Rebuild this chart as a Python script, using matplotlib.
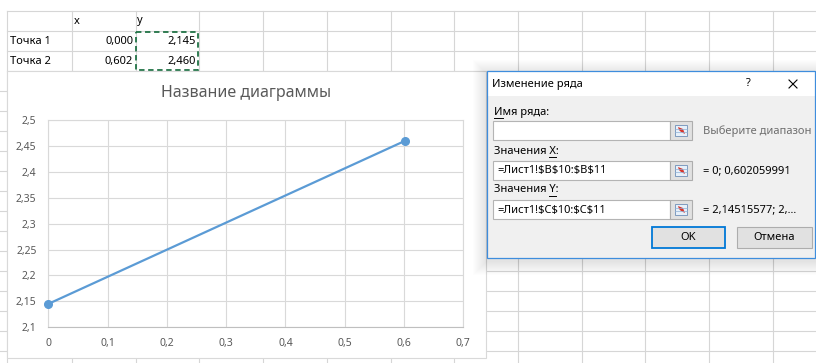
import matplotlib
matplotlib.use("Agg")
import matplotlib.pyplot as plt
from matplotlib.patches import Rectangle, Polygon

plt.rcParams['font.family'] = ['Noto Sans', 'DejaVu Sans']

# данные листа и диаграммы
point_names = ["Точка 1", "Точка 2"]
x_vals = [0.0, 0.602059991]
y_vals = [2.14515577, 2.460]
x_ticks = [0.0, 0.1, 0.2, 0.3, 0.4, 0.5, 0.6, 0.7]
y_ticks = [2.10, 2.15, 2.20, 2.25, 2.30, 2.35, 2.40, 2.45, 2.50]
chart_title = "Название диаграммы"
ref_x = "=Лист1!$B$10:$B$11"
ref_y = "=Лист1!$C$10:$C$11"


def ru(v, fmt="g"):
    return format(v, fmt).replace('.', ',')


W, H = 816, 363
fig = plt.figure(figsize=(W / 100, H / 100), dpi=100)

# ---------- лист Excel ----------
bg = fig.add_axes([0, 0, 1, 1], zorder=0)
bg.set_xlim(0, W)
bg.set_ylim(H, 0)
bg.axis('off')

grid_c = '#D6D6D6'
col_x = [7, 72] + [72 + 63.7 * k for k in range(1, 12)]
row_y = [11 + 20 * k for k in range(18)]
for y in row_y:
    bg.plot([0 if y > 71 else 7, W], [y, y], color=grid_c, lw=0.8, zorder=1)
for x in col_x:
    bg.plot([x, x], [11, H], color=grid_c, lw=0.8, zorder=1)

cell_font = dict(fontsize=8, color='black', va='center', zorder=2)
bg.text(74, 22, "x", **cell_font)
bg.text(137, 21, "y", **cell_font)
for i, name in enumerate(point_names):
    yy = 41.5 + 20 * i
    bg.text(10, yy, name, **cell_font)
    bg.text(133, yy, ru(x_vals[i], ".3f"), ha='right', **cell_font)
    bg.text(196, yy, ru(y_vals[i], ".3f"), ha='right', **cell_font)

# выделение диапазона C10:C11
bg.add_patch(Rectangle((136, 32), 62, 38, fill=False, ec='#217346', lw=1.3,
                       ls=(0, (3, 2)), zorder=2))

# область диаграммы
bg.add_patch(Rectangle((7, 71), 479, 287, fc='white', ec='#D9D9D9', lw=0.8, zorder=3))
bg.text(246.5, 93, chart_title, fontsize=11.5, color='#595959',
        ha='center', va='center', zorder=4)

# ---------- диаграмма ----------
x0, x1, y0, y1 = 48.3, 463.3, 120.0, 327.3
ax = fig.add_axes([x0 / W, (H - y1) / H, (x1 - x0) / W, (y1 - y0) / H], zorder=1)
ax.set_facecolor('none')
ax.plot(x_vals, y_vals, color='#5B9BD5', lw=1.6, marker='o', ms=5.5,
        clip_on=False, zorder=3)
ax.set_xlim(x_ticks[0], x_ticks[-1])
ax.set_ylim(y_ticks[0], y_ticks[-1])
ax.set_xticks(x_ticks)
ax.set_yticks(y_ticks)
ax.set_xticklabels([ru(v) for v in x_ticks])
ax.set_yticklabels([ru(v) for v in y_ticks])
ax.tick_params(length=0, labelsize=7.5, labelcolor='#595959')
ax.tick_params(axis='y', pad=8.5)
ax.tick_params(axis='x', pad=8)
ax.grid(True, color='#D9D9D9', lw=0.8)
for side in ['left', 'top', 'right']:
    ax.spines[side].set_color('#D9D9D9')
    ax.spines[side].set_linewidth(0.8)
ax.spines['bottom'].set_color('#BFBFBF')
ax.spines['bottom'].set_linewidth(0.8)

# ---------- окно "Изменение ряда" ----------
dl = fig.add_axes([0, 0, 1, 1], zorder=2)
dl.set_xlim(0, W)
dl.set_ylim(H, 0)
dl.axis('off')
dl.patch.set_visible(False)

dx0, dy0, dx1, dy1 = 487, 71, 815, 258
# тень
for k in range(1, 15):
    dl.add_patch(Rectangle((dx0 - k, dy0 - k + 3), dx1 - dx0 + 2 * k, dy1 - dy0 + 2 * k,
                           fc='black', ec='none', alpha=0.007))
dl.add_patch(Rectangle((dx0, dy0), dx1 - dx0, dy1 - dy0, fc='#F0F0F0', ec='none'))
dl.add_patch(Rectangle((dx0, dy0), dx1 - dx0, 25, fc='white', ec='none'))
dl.add_patch(Rectangle((dx0, dy0), dx1 - dx0, dy1 - dy0, fill=False, ec='#3E8DDD', lw=0.9))

ui = dict(fontsize=8, va='center', color='black')
dl.text(492, 84, "Изменение ряда", **ui)
dl.text(748, 84, "?", ha='center', **ui)
dl.plot([789, 797], [80, 88], color='black', lw=0.8)
dl.plot([789, 797], [88, 80], color='black', lw=0.8)

fig.canvas.draw()
renderer = fig.canvas.get_renderer()


def text_w(s, t):
    w, _, _ = renderer.get_text_width_height_descent(s, t.get_fontproperties(), ismath=False)
    return w


def label(x, y, s, idx):
    t = dl.text(x, y, s, **ui)
    right = x + text_w(s[:idx + 1], t)
    left = right - text_w(s[idx], t)
    dl.plot([left, right], [y + 6, y + 6], color='black', lw=0.7)


def range_button(x, y):
    dl.add_patch(Rectangle((x, y), 22, 19, fc='#E1E1E1', ec='#ADADAD', lw=0.8))
    dl.add_patch(Rectangle((x + 5, y + 4), 12, 11, fc='#E6F0FA', ec='#6F8FB8', lw=0.6))
    for yy in (y + 7.5, y + 11):
        dl.plot([x + 5, x + 17], [yy, yy], color='#8FB0D6', lw=0.5)
    dl.add_patch(Polygon([[x + 8, y + 6], [x + 13, y + 8], [x + 15, y + 13],
                          [x + 11, y + 11], [x + 9, y + 9]], closed=True,
                         fc='#D8362C', ec='none'))


boxes = [(121, None, "Выберите диапазон", '#6D6D6D'),
         (161, ref_x, "= " + "; ".join(ru(v, ".10g") for v in x_vals), 'black'),
         (200, ref_y, "= " + ru(y_vals[0], ".9g") + "; " + str(int(y_vals[1])) + ",...", 'black')]
label(494, 112, "Имя ряда:", 0)
label(494, 151, "Значения X:", 9)
label(494, 190, "Значения Y:", 9)
for top, ref, hint, hint_c in boxes:
    dl.add_patch(Rectangle((493, top), 177, 19, fc='white', ec='#B4B4B4', lw=0.8))
    range_button(670, top)
    if ref:
        dl.text(497, top + 10, ref, parse_math=False, **ui)
    dl.text(703, top + 10, hint, fontsize=8, va='center', color=hint_c)

dl.add_patch(Rectangle((652, 227), 73, 21, fc='#E1E1E1', ec='#0078D7', lw=1.3))
dl.text(688.5, 237.5, "OK", ha='center', **ui)
dl.add_patch(Rectangle((737, 227), 75, 21, fc='#E1E1E1', ec='#ADADAD', lw=0.8))
dl.text(774.5, 237.5, "Отмена", ha='center', **ui)

fig.savefig("out.png", dpi=100)
